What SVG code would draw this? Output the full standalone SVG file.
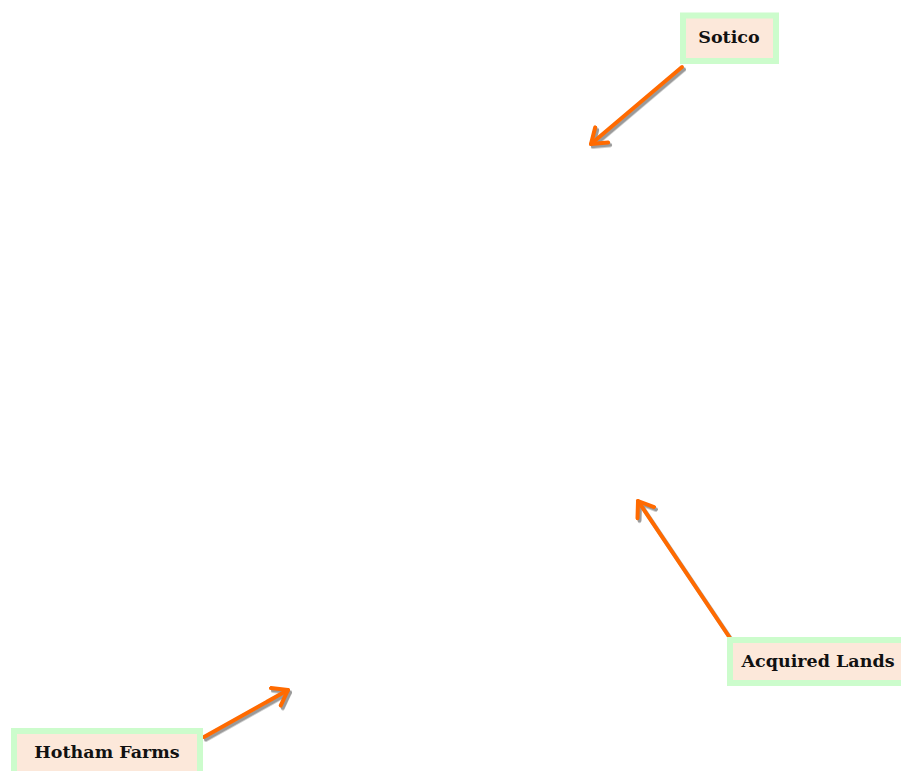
<svg xmlns="http://www.w3.org/2000/svg" width="901" height="771" viewBox="0 0 901 771">
<style>
.box{fill:#fce8da;stroke:#ccfccc;stroke-width:6}
.lbl{font-family:"DejaVu Serif","Liberation Serif",serif;font-weight:bold;font-size:17.5px;fill:#111;text-anchor:middle}
.arr{fill:none;stroke:#ff6a00;stroke-width:4;stroke-linecap:round;stroke-linejoin:round}
.sh{fill:none;stroke:#8f8f8f;stroke-width:4;stroke-linecap:round;stroke-linejoin:round;opacity:0.9}
</style>
<defs>
<filter id="blur" x="-20%" y="-20%" width="140%" height="140%"><feGaussianBlur stdDeviation="0.7"/></filter>
<marker id="head" markerUnits="userSpaceOnUse" markerWidth="30" markerHeight="30" refX="16" refY="12" orient="auto" viewBox="0 0 30 30">
<path d="M2,2 L16,12 L2,22" fill="none" stroke="#ff6a00" stroke-width="4" stroke-linecap="round" stroke-linejoin="round"/>
</marker>
<marker id="headsh" markerUnits="userSpaceOnUse" markerWidth="30" markerHeight="30" refX="16" refY="12" orient="auto" viewBox="0 0 30 30">
<path d="M2,2 L16,12 L2,22" fill="none" stroke="#8f8f8f" stroke-width="4" stroke-linecap="round" stroke-linejoin="round"/>
</marker>
</defs>
<g id="connectors">
<g filter="url(#blur)" transform="translate(2,2.5)">
<line class="sh" x1="682" y1="67" x2="591" y2="144" marker-end="url(#headsh)"/>
<line class="sh" x1="730" y1="638" x2="638" y2="501" marker-end="url(#headsh)"/>
<line class="sh" x1="204" y1="737" x2="288" y2="690" marker-end="url(#headsh)"/>
</g>
<line class="arr" x1="682" y1="67" x2="591" y2="144" marker-end="url(#head)"/>
<line class="arr" x1="730" y1="638" x2="638" y2="501" marker-end="url(#head)"/>
<line class="arr" x1="204" y1="737" x2="288" y2="690" marker-end="url(#head)"/>
</g>
<g id="sotico">
<rect class="box" x="683" y="15.5" width="93" height="45.5"/>
<text class="lbl" x="729" y="43">Sotico</text>
</g>
<g id="acquired-lands">
<rect class="box" x="730" y="640" width="176" height="43"/>
<text class="lbl" x="818" y="667">Acquired Lands</text>
</g>
<g id="hotham-farms">
<rect class="box" x="14" y="731" width="186" height="46"/>
<text class="lbl" x="107" y="758">Hotham Farms</text>
</g>
</svg>
